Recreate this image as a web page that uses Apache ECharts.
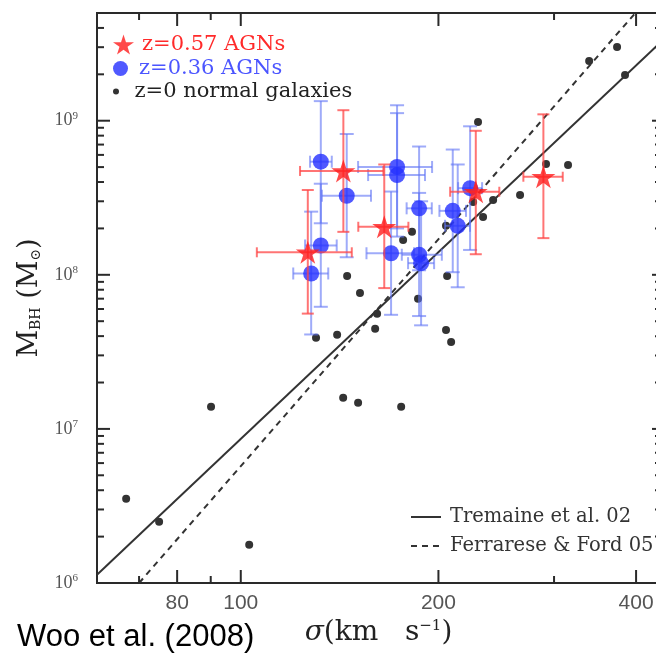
<!DOCTYPE html>
<html><head><meta charset="utf-8">
<script src="https://cdn.jsdelivr.net/npm/echarts@6/dist/echarts.min.js"></script>
<style>html,body{margin:0;padding:0;background:#fff;} #c{width:656px;height:657px;}</style>
</head><body><div id="c"></div>
<script>
// ---------- data ----------
// z=0 normal galaxies: sigma (km/s), M_BH (Msun)
const normalSigma = [66.9, 75.1, 90.1, 103.0, 130.2, 140.2, 160.2, 205.4, 209.1, 143.2, 150.9, 175.5, 145.2, 151.9, 161.3, 182.3, 176.7, 206.2, 186.2, 229.8, 266.3, 242.3, 233.9, 205.4, 225.9, 291.7, 315.1, 339.3, 374.2, 384.8];
const normalMass  = [3.52e6, 2.50e6, 1.39e7, 1.77e6, 3.90e7, 4.08e7, 4.46e7, 4.39e7, 3.67e7, 1.59e7, 1.48e7, 1.39e7, 9.84e7, 7.63e7, 5.58e7, 1.90e8, 1.68e8, 9.84e7, 6.98e7, 9.8e8, 3.30e8, 3.06e8, 2.37e8, 2.08e8, 2.97e8, 5.24e8, 5.16e8, 2.44e9, 3.01e9, 1.98e9];

// z=0.57 AGNs
const agn57Sigma   = [143.3, 126.5, 165.4, 228.0, 289.0];
const agn57SigmaLo = [123.1, 105.8, 151.0, 208.4, 269.4];
const agn57SigmaHi = [164.9, 147.6, 180.0, 247.6, 309.3];
const agn57Mass    = [4.72e8, 1.40e8, 2.05e8, 3.46e8, 4.33e8];
const agn57MassLo  = [1.90e8, 5.6e7, 8.2e7, 1.36e8, 1.73e8];
const agn57MassHi  = [1.17e9, 3.55e8, 5.2e8, 8.6e8, 1.10e9];

// z=0.36 AGNs
const agn36Sigma   = [132.4, 145.0, 132.4, 128.0, 173.0, 173.0, 186.9, 169.4, 186.9, 188.2, 210.3, 214.0, 223.5];
const agn36SigmaLo = [127.5, 132.9, 125.3, 120.2, 150.9, 156.3, 178.9, 155.4, 175.9, 179.8, 200.7, 204.7, 214.3];
const agn36SigmaHi = [137.6, 157.9, 140.0, 135.9, 195.6, 190.8, 195.4, 183.6, 202.4, 197.0, 220.3, 223.4, 233.1];
const agn36Mass    = [5.42e8, 3.26e8, 1.55e8, 1.02e8, 5.01e8, 4.44e8, 2.70e8, 1.38e8, 1.35e8, 1.19e8, 2.60e8, 2.08e8, 3.65e8];
const agn36MassLo  = [2.16e8, 1.30e8, 6.2e7, 4.1e7, 2.0e8, 1.77e8, 1.07e8, 5.5e7, 5.4e7, 4.7e7, 1.04e8, 8.3e7, 1.45e8];
const agn36MassHi  = [1.34e9, 8.2e8, 3.9e8, 2.57e8, 1.26e9, 1.12e9, 6.8e8, 3.47e8, 3.4e8, 3.0e8, 6.5e8, 5.2e8, 9.2e8];

// relations (end points)
const tremaineSigma  = [60.4, 435];
const tremaineMass   = [1.13e6, 3.2e9];
const ferrareseSigma = [70.0, 399];
const ferrareseMass  = [1.0e6, 5.0e9];

// axis ticks
const xMajorTicks = [80, 100, 200, 400];
const xMinorTicks = [70, 90, 300];
const yMajorTicks = [1e6, 1e7, 1e8, 1e9];
const yMinorMult  = [2, 3, 4, 5, 6, 7, 8, 9];
const xRange = [60.4, 435];
const yRange = [1e6, 5e9];

const N57 = 'z=0.57 AGNs', N36 = 'z=0.36 AGNs', N0 = 'z=0 normal galaxies';
const NT = 'Tremaine et al. 02', NF = 'Ferrarese & Ford 05';

// ---------- build ----------
const lg = Math.log10;
const pts = (xs, ys) => xs.map((x, i) => [lg(x), lg(ys[i])]);
const errs = (xs, xl, xh, ys, yl, yh) => xs.map((x, i) => [lg(x), lg(ys[i]), lg(xl[i]), lg(xh[i]), lg(yl[i]), lg(yh[i])]);
const yMinorVals = [];
yMajorTicks.forEach(d => yMinorMult.forEach(k => { const v = d * k; if (v < yRange[1]) yMinorVals.push(v); }));

const LX = [lg(xRange[0]), lg(xRange[1])];
const LY = [lg(yRange[0]), lg(yRange[1])];
const AX = '#2a2a2a';

function errRender(color, vcap, hcap) {
  return function (params, api) {
    const x = api.value(0), y = api.value(1);
    const c = api.coord([x, y]);
    const xl = api.coord([api.value(2), y])[0], xh = api.coord([api.value(3), y])[0];
    const yl = api.coord([x, api.value(4)])[1], yh = api.coord([x, api.value(5)])[1];
    const L = (x1, y1, x2, y2) => ({ type: 'line', shape: { x1, y1, x2, y2 }, style: { stroke: color, lineWidth: 2, fill: null } });
    return { type: 'group', children: [
      L(xl, c[1], xh, c[1]), L(xl, c[1] - hcap, xl, c[1] + hcap), L(xh, c[1] - hcap, xh, c[1] + hcap),
      L(c[0], yl, c[0], yh), L(c[0] - vcap, yl, c[0] + vcap, yl), L(c[0] - vcap, yh, c[0] + vcap, yh)
    ] };
  };
}

const STAR = 'path://M0,-1L0.2245,-0.309L0.951,-0.309L0.363,0.118L0.588,0.809L0,0.382L-0.588,0.809L-0.363,0.118L-0.951,-0.309L-0.2245,-0.309Z';
const RED = '#ff1c1c', BLUE = '#2430ff';

const chart = echarts.init(document.getElementById('c'), null, { renderer: 'canvas' });
chart.setOption({
  animation: false,
  backgroundColor: '#fff',
  title: { text: 'Woo et al. (2008)', left: 17, top: 622, padding: 0,
    textStyle: { fontFamily: 'Liberation Sans', fontSize: 31, fontWeight: 'normal', color: '#000' } },
  grid: { left: 97, top: 13, width: 563, height: 570, containLabel: false, outerBoundsMode: 'none',
    show: true, borderColor: AX, borderWidth: 2, backgroundColor: 'transparent' },
  xAxis: {
    type: 'value', position: 'bottom', min: LX[0], max: LX[1],
    axisLine: { show: true, onZero: false, lineStyle: { color: AX, width: 2 } },
    axisTick: { show: false },
    axisLabel: { show: true, customValues: xMajorTicks.map(lg), margin: 10,
      formatter: v => String(Math.round(Math.pow(10, v))),
      fontFamily: 'Liberation Sans', fontSize: 21, color: '#555' },
    splitLine: { show: false },
    name: '{i|σ}{r|(km   s}{sup|−1}{r|)}', nameLocation: 'middle', nameGap: 35,
    nameTextStyle: { color: '#222', rich: {
      i: { fontFamily: 'DejaVu Serif', fontStyle: 'italic', fontSize: 28, color: '#222' },
      r: { fontFamily: 'DejaVu Serif', fontSize: 28, color: '#222' },
      sup: { fontFamily: 'DejaVu Serif', fontSize: 15, color: '#222', verticalAlign: 'top' } } }
  },
  yAxis: {
    type: 'value', position: 'left', min: LY[0], max: LY[1],
    axisLine: { show: true, onZero: false, lineStyle: { color: AX, width: 2 } },
    axisTick: { show: false },
    axisLabel: { show: true, customValues: yMajorTicks.map(lg), margin: 19,
      formatter: v => '{b|10}{s|' + Math.round(v) + '}',
      rich: { b: { fontFamily: 'Liberation Serif', fontSize: 18, color: '#555', lineHeight: 20 },
              s: { fontFamily: 'Liberation Serif', fontSize: 11, color: '#555', verticalAlign: 'top', lineHeight: 11 } } },
    splitLine: { show: false },
    name: 'M{sub|BH} {r|(M}{sub|⊙}{r|)}', nameLocation: 'middle', nameRotate: 90, nameGap: 48,
    nameTextStyle: { fontFamily: 'DejaVu Serif', fontSize: 27, color: '#222', rich: {
      r: { fontFamily: 'DejaVu Serif', fontSize: 27, color: '#222' },
      sub: { fontFamily: 'DejaVu Serif', fontSize: 14, color: '#222', verticalAlign: 'bottom' } } }
  },
  legend: [
    { data: [N57], left: 113, top: 34, orient: 'vertical', padding: 0, itemWidth: 21, itemHeight: 21, selectedMode: false,
      textStyle: { fontFamily: 'DejaVu Serif', fontSize: 21, color: '#ff2a2a', padding: [0, 0, 0, 3] } },
    { data: [N36], left: 113, top: 58, orient: 'vertical', padding: 0, itemWidth: 21, itemHeight: 15, selectedMode: false,
      textStyle: { fontFamily: 'DejaVu Serif', fontSize: 21, color: '#4b55ff', padding: [0, 0, 0, 3] } },
    { data: [N0], left: 113, top: 81, orient: 'vertical', padding: 0, itemWidth: 21, itemHeight: 6, selectedMode: false,
      textStyle: { fontFamily: 'DejaVu Serif', fontSize: 21, color: '#222', padding: [0, 0, 0, 3] } },
    { data: [NT, NF], left: 410, top: 507, orient: 'vertical', padding: 0, itemGap: 9, itemWidth: 30, itemHeight: 14, selectedMode: false,
      itemStyle: { opacity: 0 },
      textStyle: { fontFamily: 'DejaVu Serif', fontSize: 19.5, color: '#333', padding: [0, 0, 0, 4] } }
  ],
  series: [
    { name: N0, type: 'scatter', symbol: 'circle', symbolSize: 8, z: 2,
      itemStyle: { color: '#000' }, data: pts(normalSigma, normalMass) },
    { name: NT, type: 'line', symbol: 'none', z: 3, clip: true,
      lineStyle: { color: '#333', width: 2, type: 'solid' }, data: pts(tremaineSigma, tremaineMass) },
    { name: NF, type: 'line', symbol: 'none', z: 3, clip: true,
      lineStyle: { color: '#333', width: 2, type: [6, 5] }, data: pts(ferrareseSigma, ferrareseMass) },
    { type: 'custom', z: 4, clip: true, renderItem: errRender('rgba(95,115,245,0.6)', 7, 6),
      encode: { x: 0, y: 1 }, data: errs(agn36Sigma, agn36SigmaLo, agn36SigmaHi, agn36Mass, agn36MassLo, agn36MassHi) },
    { name: N36, type: 'scatter', symbol: 'circle', symbolSize: 16, z: 5,
      itemStyle: { color: BLUE }, data: pts(agn36Sigma, agn36Mass) },
    { type: 'custom', z: 6, clip: true, renderItem: errRender('rgba(255,70,70,0.75)', 6, 5),
      encode: { x: 0, y: 1 }, data: errs(agn57Sigma, agn57SigmaLo, agn57SigmaHi, agn57Mass, agn57MassLo, agn57MassHi) },
    { name: N57, type: 'scatter', symbol: STAR, symbolSize: [24, 23], z: 7,
      itemStyle: { color: RED }, data: pts(agn57Sigma, agn57Mass) }
  ]
});

// ---------- frame ticks (thin rects), placed through the chart's own scales ----------
const px = (x, y) => chart.convertToPixel({ xAxisIndex: 0, yAxisIndex: 0 }, [x, y]);
const tickEls = [];
const rect = (x, y, w, h) => tickEls.push({ type: 'rect', z: 100, silent: true,
  shape: { x: x, y: y, width: w, height: h }, style: { fill: AX } });
xMajorTicks.map(v => [v, 13]).concat(xMinorTicks.map(v => [v, 7])).forEach(([v, len]) => {
  const b = px(lg(v), LY[0]), t = px(lg(v), LY[1]);
  rect(b[0] - 1, b[1] - len, 2, len);
  rect(t[0] - 1, t[1], 2, len);
});
yMajorTicks.map(v => [v, 13, 8]).concat(yMinorVals.map(v => [v, 7, 5])).forEach(([v, len, rlen]) => {
  const l = px(LX[0], lg(v)), r = px(LX[1], lg(v));
  rect(l[0], l[1] - 1, len, 2);
  rect(r[0] - rlen, r[1] - 1, rlen, 2);
});
chart.setOption({ graphic: { elements: tickEls } });
</script></body></html>
